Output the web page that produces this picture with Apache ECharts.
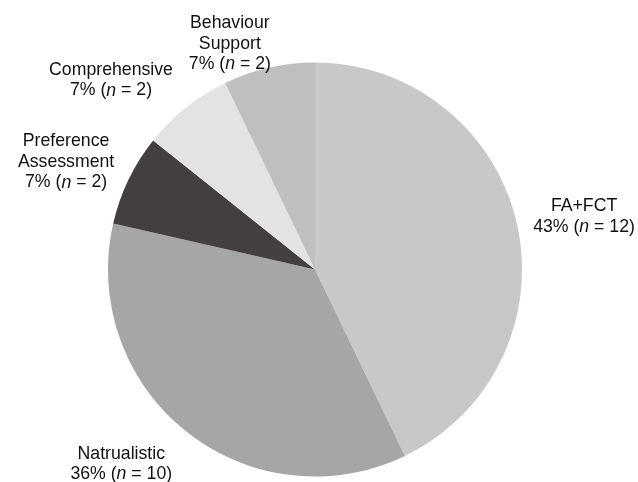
<!DOCTYPE html>
<html>
<head>
<meta charset="utf-8">
<script src="https://cdn.jsdelivr.net/npm/echarts@6/dist/echarts.min.js"></script>
<style>html,body{margin:0;padding:0;background:#fff;}#c{width:638px;height:482px;}</style>
</head>
<body>
<div id="c"></div>
<script>
const categories = ['FA+FCT', 'Natrualistic', 'Preference\nAssessment', 'Comprehensive', 'Behaviour\nSupport'];
const counts = [12, 10, 2, 2, 2];
const colors = ['#c8c8c8', '#a6a6a6', '#423f3e', '#e3e3e3', '#bebfbe'];

const CX = 315, CY = 269.5, R = 207, GAP = 12;
const nudges = [[3, 8], [-28, -13], [-1, 12], [-34, 24], [-28, 25]];
const total = counts.reduce((a, b) => a + b, 0);

const chart = echarts.init(document.getElementById('c'), null, {renderer: 'canvas'});
const data = categories.map((name, i) => ({name: name, value: counts[i], itemStyle: {color: colors[i]}}));
const baseText = {fontFamily: 'Liberation Sans, Arial, sans-serif', fontSize: 17.7, lineHeight: 20.5, color: '#111', align: 'center'};

chart.setOption({
  animation: false,
  backgroundColor: '#fff',
  series: [{
    type: 'pie',
    center: [CX, CY],
    radius: R,
    startAngle: 90,
    clockwise: true,
    avoidLabelOverlap: false,
    emphasis: {disabled: true},
    itemStyle: {borderWidth: 0},
    labelLine: {show: false},
    label: {
      show: true,
      position: 'outside',
      formatter: function (p) {
        const pct = Math.round(counts[p.dataIndex] / total * 100);
        const lines = p.name.split('\n').map(s => '{a|' + s + '}');
        lines.push('{a|' + pct + '% (}{i|n}{a| = ' + counts[p.dataIndex] + ')}');
        return lines.join('\n');
      },
      rich: {
        a: Object.assign({}, baseText),
        i: Object.assign({}, baseText, {fontStyle: 'italic'})
      }
    },
    labelLayout: function (p) {
      const i = p.dataIndex;
      let before = 0;
      for (let k = 0; k < i; k++) before += counts[k];
      const mid = (before + counts[i] / 2) / total * 2 * Math.PI;
      const nx = Math.sin(mid), ny = -Math.cos(mid);
      const w = p.labelRect.width, h = p.labelRect.height;
      const d = R + GAP + Math.abs(nx) * w / 2 + Math.abs(ny) * h / 2;
      return {
        x: CX + nx * d + nudges[i][0],
        y: CY + ny * d + nudges[i][1],
        align: 'center',
        verticalAlign: 'middle'
      };
    },
    data: data
  }]
});
</script>
</body>
</html>
